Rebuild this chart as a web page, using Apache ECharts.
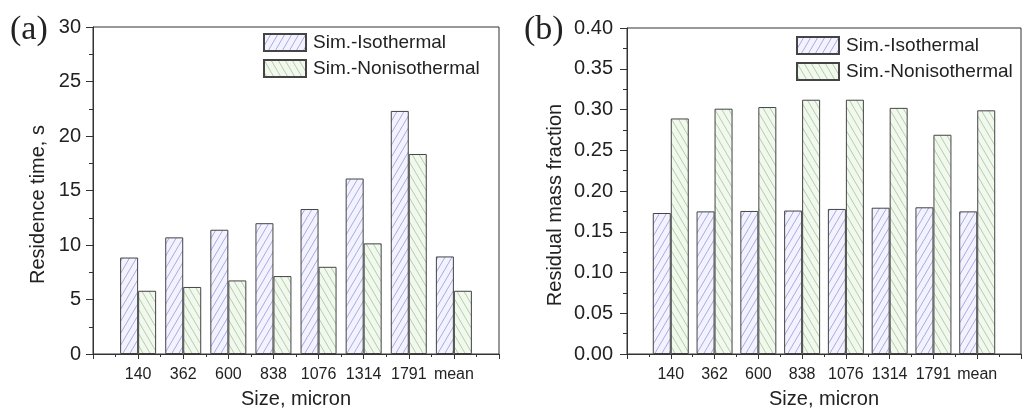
<!DOCTYPE html>
<html>
<head>
<meta charset="utf-8">
<script src="https://cdn.jsdelivr.net/npm/echarts@6/dist/echarts.min.js"></script>
<style>
html,body{margin:0;padding:0;background:#fff;}
#chart{width:1024px;height:414px;}
</style>
</head>
<body>
<div id="chart"></div>
<script>
// ---- data ----
const catLabels = ['140', '362', '600', '838', '1076', '1314', '1791', 'mean'];
const seriesNames = ['Sim.-Isothermal', 'Sim.-Nonisothermal'];
const residenceIso = [8.85, 10.7, 11.4, 12.0, 13.3, 16.1, 22.3, 8.95];
const residenceNon = [5.8, 6.15, 6.75, 7.15, 8.0, 10.15, 18.35, 5.8];
const massIso = [0.173, 0.175, 0.1755, 0.176, 0.178, 0.1795, 0.180, 0.175];
const massNon = [0.289, 0.301, 0.303, 0.312, 0.312, 0.302, 0.269, 0.299];
const leftTicks = {min: 0, max: 30, interval: 5};
const rightTicks = {min: 0, max: 0.4, interval: 0.05};

// ---- hatch patterns ----
function hatch(bg, line, dir) {
  const w = 7, h = 12;
  const c = document.createElement('canvas');
  c.width = w; c.height = h;
  const g = c.getContext('2d');
  g.fillStyle = bg; g.fillRect(0, 0, w, h);
  g.strokeStyle = line; g.lineWidth = 1;
  g.beginPath();
  for (const k of [-1, 0, 1]) {
    if (dir > 0) { g.moveTo(k * w, h); g.lineTo(k * w + w, 0); }
    else { g.moveTo(k * w, 0); g.lineTo(k * w + w, h); }
  }
  g.stroke();
  return c;
}
const isoPattern = {image: hatch('#f3f3ff', '#a9a9e2', 1), repeat: 'repeat'};
const nonPattern = {image: hatch('#f2f8ee', '#aed0a8', -1), repeat: 'repeat'};

const FONT = 'Liberation Sans';
const toPairs = arr => arr.map((v, i) => [i + 1, v]);

function xAxisCfg(gridIndex) {
  return {
    type: 'value', gridIndex: gridIndex, min: 0, max: catLabels.length + 1, interval: 1,
    name: 'Size, micron', nameLocation: 'middle', nameGap: 35,
    nameTextStyle: {fontFamily: FONT, fontSize: 20, color: '#222'},
    axisLine: {show: true, lineStyle: {color: '#333', width: 1}},
    axisTick: {show: true, length: 5, lineStyle: {color: '#333'}},
    minorTick: {show: true, splitNumber: 2, length: 3, lineStyle: {color: '#333'}},
    splitLine: {show: false},
    axisLabel: {
      fontFamily: FONT, fontSize: 16, color: '#222', margin: 13,
      formatter: v => catLabels[v - 1] || ''
    }
  };
}
function yAxisCfg(gridIndex, ticks, name, gap, margin, fmt) {
  return {
    type: 'value', gridIndex: gridIndex, min: ticks.min, max: ticks.max, interval: ticks.interval,
    name: name, nameLocation: 'middle', nameGap: gap,
    nameTextStyle: {fontFamily: FONT, fontSize: 20, color: '#222', padding: [0, 28, 0, 0]},
    axisLine: {show: true, lineStyle: {color: '#333', width: 1}},
    axisTick: {show: true, length: 7, lineStyle: {color: '#333'}},
    minorTick: {show: true, splitNumber: 2, length: 4, lineStyle: {color: '#333'}},
    splitLine: {show: false},
    axisLabel: {fontFamily: FONT, fontSize: 20, color: '#222', margin: margin, formatter: fmt}
  };
}
function barSeries(name, data, pattern, axisIndex) {
  return {
    type: 'bar', name: name, data: data, xAxisIndex: axisIndex, yAxisIndex: axisIndex,
    barWidth: 18, barGap: '0%',
    itemStyle: {color: pattern, borderColor: '#444', borderWidth: 1},
    emphasis: {disabled: true}
  };
}
function legendCfg(left, top) {
  return {
    left: left, top: top, padding: 0, orient: 'vertical', itemWidth: 42, itemHeight: 17, itemGap: 7,
    icon: 'rect',
    data: seriesNames,
    textStyle: {fontFamily: FONT, fontSize: 19, color: '#222', padding: [0, 0, 0, 2]},
    selectedMode: false
  };
}

const chart = echarts.init(document.getElementById('chart'), null, {renderer: 'canvas'});
const option = {
  backgroundColor: '#fff',
  animation: false,
  title: [
    {text: '(a)', left: 5, top: 8, textStyle: {fontFamily: 'Liberation Serif', fontSize: 34, fontWeight: 'normal', color: '#222'}},
    {text: '(b)', left: 519, top: 8, textStyle: {fontFamily: 'Liberation Serif', fontSize: 34, fontWeight: 'normal', color: '#222'}}
  ],
  grid: [
    {left: 93, top: 27, width: 406, height: 332, show: true, borderColor: '#333', borderWidth: 1, backgroundColor: 'transparent'},
    {left: 627, top: 28, width: 405, height: 333, show: true, borderColor: '#333', borderWidth: 1, backgroundColor: 'transparent'}
  ],
  legend: [legendCfg(263, 33), legendCfg(796, 36)],
  xAxis: [xAxisCfg(0), xAxisCfg(1)],
  yAxis: [
    yAxisCfg(0, leftTicks, 'Residence time, s', 45, 12, v => String(v)),
    yAxisCfg(1, rightTicks, 'Residual mass fraction', 62, 14, v => v.toFixed(2))
  ],
  series: [
    barSeries(seriesNames[0], toPairs(residenceIso), isoPattern, 0),
    barSeries(seriesNames[1], toPairs(residenceNon), nonPattern, 0),
    barSeries(seriesNames[0], toPairs(massIso), isoPattern, 1),
    barSeries(seriesNames[1], toPairs(massNon), nonPattern, 1)
  ]
};
chart.setOption(option);
</script>
</body>
</html>
